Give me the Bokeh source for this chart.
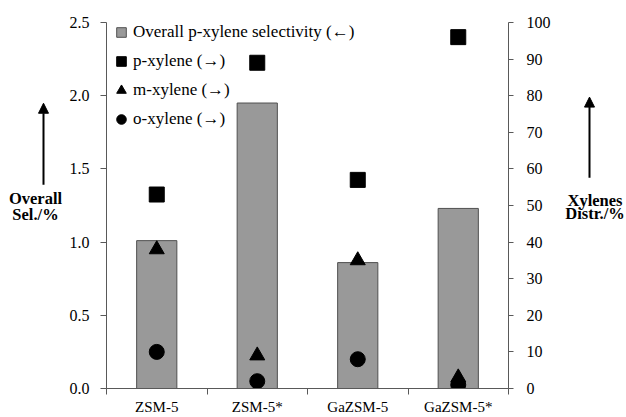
import numpy as np
from bokeh.plotting import figure
from bokeh.layouts import row
from bokeh.models import (Range1d, LinearAxis, FixedTicker, Legend, LegendItem, Label,
                          Arrow, NormalHead, ColumnDataSource, NumeralTickFormatter)
from bokeh.embed import file_html
from bokeh.resources import INLINE

categories = ["ZSM-5", "ZSM-5*", "GaZSM-5", "GaZSM-5*"]
overall_sel = [1.01, 1.95, 0.86, 1.23]   # left axis
p_xylene = [53, 89, 57, 96]              # right axis
m_xylene = [38, 9, 35, 3]
o_xylene = [10, 2, 8, 1]
left_ticks = [0.0, 0.5, 1.0, 1.5, 2.0, 2.5]
right_ticks = [0, 10, 20, 30, 40, 50, 60, 70, 80, 90, 100]

xpos = np.arange(len(categories)) + 0.5
src = ColumnDataSource(dict(x=xpos, sel=overall_sel, p=p_xylene, m=m_xylene, o=o_xylene))

FONT = "Liberation Serif"
AXC = "#595959"
H = 417

p = figure(width=494, height=H, output_backend="svg", toolbar_location=None,
           x_range=Range1d(0, len(categories)), y_range=Range1d(0, 2.5),
           min_border_left=40, min_border_right=52, min_border_top=22, min_border_bottom=29)
p.outline_line_color = None
p.xgrid.visible = False
p.ygrid.visible = False
p.extra_y_ranges = {"right": Range1d(0, 100)}

# bars
bars = p.vbar(x="x", top="sel", width=0.4, source=src, fill_color="#999999",
              line_color="#505050", line_width=1)
# markers
sq = p.scatter("x", "p", source=src, marker="square", size=15, color="black", y_range_name="right")
tri = p.scatter("x", "m", source=src, marker="triangle", size=15, color="black", y_range_name="right")
cir = p.scatter("x", "o", source=src, marker="circle", size=15, color="black", y_range_name="right")
# legend swatch for the bars (not drawn in the plot area)
proxy = p.scatter(x=[float("nan")], y=[float("nan")], marker="square", size=8,
                  fill_color="#999999", line_color="#505050")

# x axis
xa = p.xaxis[0]
xa.ticker = FixedTicker(ticks=list(xpos), minor_ticks=list(range(len(categories) + 1)))
xa.major_label_overrides = {float(v): c for v, c in zip(xpos, categories)}
xa.major_tick_out = 0
xa.major_tick_in = 0
xa.minor_tick_out = 6
xa.minor_tick_in = 0
xa.minor_tick_line_color = AXC
xa.axis_line_color = AXC
xa.major_label_standoff = 4
xa.major_label_text_font = FONT
xa.major_label_text_font_size = "15px"
xa.major_label_text_color = "black"

# left axis
ya = p.yaxis[0]
ya.ticker = FixedTicker(ticks=left_ticks)
ya.formatter = NumeralTickFormatter(format="0.0")
ya.major_tick_out = 6
ya.major_tick_in = 0
ya.minor_tick_line_color = None
ya.axis_line_color = AXC
ya.major_tick_line_color = AXC
ya.major_label_standoff = 11
ya.major_label_text_font = FONT
ya.major_label_text_font_size = "16px"
ya.major_label_text_color = "black"

# right axis
ra = LinearAxis(y_range_name="right", ticker=FixedTicker(ticks=right_ticks))
ra.major_tick_out = 5
ra.major_tick_in = 0
ra.minor_tick_line_color = None
ra.axis_line_color = AXC
ra.major_tick_line_color = AXC
ra.major_label_standoff = 13
ra.major_label_text_font = FONT
ra.major_label_text_font_size = "16px"
ra.major_label_text_color = "black"
p.add_layout(ra, "right")

# legend
legend = Legend(items=[
    LegendItem(label="Overall p-xylene selectivity (\u2190)", renderers=[proxy]),
    LegendItem(label="p-xylene (\u2192)", renderers=[sq]),
    LegendItem(label="m-xylene (\u2192)", renderers=[tri]),
    LegendItem(label="o-xylene (\u2192)", renderers=[cir]),
], location=(3, 366 - (4 * 24 + 3 * 5) + 2))
legend.glyph_width = 24
legend.glyph_height = 24
legend.spacing = 5
legend.padding = 0
legend.margin = 0
legend.label_standoff = 0
legend.border_line_color = None
legend.background_fill_alpha = 0
legend.label_text_font = FONT
legend.label_text_font_size = "17px"
legend.label_text_color = "black"
p.add_layout(legend)


def side_fig(x0, x1):
    f = figure(width=x1 - x0, height=H, output_backend="svg", toolbar_location=None,
               x_range=Range1d(x0, x1), y_range=Range1d(H, 0),
               x_axis_location=None, y_axis_location=None, min_border=0)
    f.outline_line_color = None
    f.xgrid.visible = False
    f.ygrid.visible = False
    return f


def titles(f, lines, arrow):
    for txt, xx, yy in lines:
        f.add_layout(Label(x=xx, y=yy, text=txt, text_align="center", text_baseline="alphabetic",
                           text_font=FONT, text_font_style="bold", text_font_size="16.5px",
                           text_color="black"))
    ax, ay0, ay1 = arrow
    f.add_layout(Arrow(x_start=ax, y_start=ay0, x_end=ax, y_end=ay1, line_width=2, line_color="black",
                       end=NormalHead(size=10, fill_color="black", line_color="black")))


left = side_fig(0, 66)
titles(left, [("Overall", 35, 200), ("Sel./%", 35, 219)], (43, 185, 92))
right = side_fig(560, 626)
titles(right, [("Xylenes", 594.5, 203), ("Distr./%", 594.5, 218)], (589, 177, 85))

layout = row(left, p, right, spacing=0)
open("out.html", "w").write(file_html(layout, INLINE))
